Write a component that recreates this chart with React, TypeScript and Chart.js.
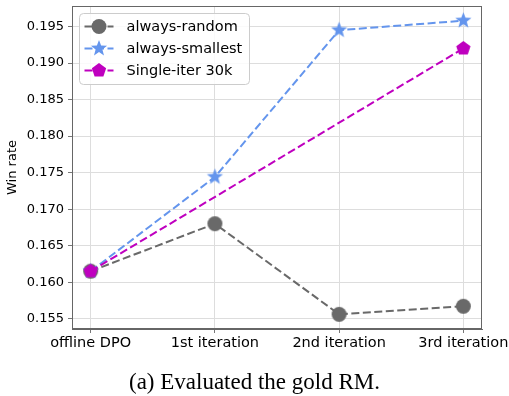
import React, { useEffect, useRef } from 'react';
import { Chart, registerables } from 'chart.js';
Chart.register(...registerables);

// ---- data ----
const categories = ['offline DPO', '1st iteration', '2nd iteration', '3rd iteration'];
const categoryX = [0, 1, 2, 3];
const randomValues = [0.1615, 0.168, 0.1556, 0.1567];
const smallestValues = [0.1615, 0.1744, 0.1945, 0.1958];
const singleIterX = [0, 3];
const singleIterValues = [0.1615, 0.192];
const yTickValues = [0.155, 0.16, 0.165, 0.17, 0.175, 0.18, 0.185, 0.19, 0.195];
const seriesNames = ['always-random', 'always-smallest', 'Single-iter 30k'];
const caption = '(a) Evaluated the gold RM.';

const GRAY = '#696969';
const BLUE = '#6495ED';
const MAGENTA = '#BF00BF';
const FONT = 'DejaVu Sans';
const DASH = [8, 3.5];

type Shape = 'circle' | 'star' | 'pentagon';

function drawMarker(ctx: CanvasRenderingContext2D, shape: Shape, x: number, y: number, r: number, color: string) {
  ctx.save();
  ctx.fillStyle = color;
  ctx.beginPath();
  if (shape === 'circle') {
    ctx.arc(x, y, r, 0, Math.PI * 2);
  } else if (shape === 'pentagon') {
    for (let i = 0; i < 5; i++) {
      const a = -Math.PI / 2 + (i * 2 * Math.PI) / 5;
      const px = x + r * Math.cos(a);
      const py = y + r * Math.sin(a);
      if (i === 0) ctx.moveTo(px, py);
      else ctx.lineTo(px, py);
    }
    ctx.closePath();
  } else {
    const inner = r * 0.42;
    for (let i = 0; i < 10; i++) {
      const a = -Math.PI / 2 + (i * Math.PI) / 5;
      const rr = i % 2 === 0 ? r : inner;
      const px = x + rr * Math.cos(a);
      const py = y + rr * Math.sin(a);
      if (i === 0) ctx.moveTo(px, py);
      else ctx.lineTo(px, py);
    }
    ctx.closePath();
  }
  ctx.fill();
  ctx.restore();
}

function markerCanvas(shape: Shape, r: number, color: string): HTMLCanvasElement {
  const c = document.createElement('canvas');
  const s = Math.ceil(r * 2 + 2);
  c.width = s;
  c.height = s;
  const ctx = c.getContext('2d')!;
  drawMarker(ctx, shape, s / 2, s / 2, r, color);
  return c;
}

const seriesColors = [GRAY, BLUE, MAGENTA];
const seriesShapes: Shape[] = ['circle', 'star', 'pentagon'];
const seriesRadius = [7.5, 8.5, 7.5];

const frameLegendPlugin = {
  id: 'frameLegend',
  beforeDatasetsDraw(chart: any) {
    const { ctx, chartArea } = chart;
    ctx.save();
    ctx.strokeStyle = '#666';
    ctx.lineWidth = 1;
    const l = Math.round(chartArea.left) + 0.5;
    const t = Math.round(chartArea.top) + 0.5;
    const r = Math.round(chartArea.right) - 0.5;
    const b = Math.round(chartArea.bottom) - 0.5;
    ctx.strokeRect(l, t, r - l, b - t);
    ctx.restore();
  },
  afterDatasetsDraw(chart: any) {
    const { ctx, chartArea } = chart;
    const bx = chartArea.left + 7.5;
    const by = chartArea.top + 7.5;
    const bw = 170;
    const bh = 71;
    ctx.save();
    ctx.fillStyle = 'rgba(255,255,255,0.85)';
    ctx.strokeStyle = '#cccccc';
    ctx.lineWidth = 1;
    ctx.beginPath();
    (ctx as any).roundRect(bx, by, bw, bh, 4);
    ctx.fill();
    ctx.stroke();
    seriesNames.forEach((name, i) => {
      const y = by + 13 + i * 22;
      ctx.strokeStyle = seriesColors[i];
      ctx.lineWidth = 2;
      ctx.setLineDash(DASH);
      ctx.beginPath();
      ctx.moveTo(bx + 5, y);
      ctx.lineTo(bx + 34, y);
      ctx.stroke();
      ctx.setLineDash([]);
      drawMarker(ctx, seriesShapes[i], bx + 19.5, y, seriesRadius[i], seriesColors[i]);
      ctx.fillStyle = '#000';
      ctx.font = `14.5px "${FONT}"`;
      ctx.textBaseline = 'middle';
      ctx.textAlign = 'left';
      ctx.fillText(name, bx + 47, y + 0.5);
    });
    ctx.restore();
  },
};

export default function App() {
  const ref = useRef<HTMLCanvasElement>(null);
  useEffect(() => {
    const canvas = ref.current!;
    const toPts = (xs: number[], ys: number[]) => xs.map((x, i) => ({ x, y: ys[i] }));
    const chart = new Chart(canvas, {
      type: 'line',
      data: {
        datasets: [
          {
            label: seriesNames[0],
            data: toPts(categoryX, randomValues),
            borderColor: GRAY,
            backgroundColor: GRAY,
            borderWidth: 2,
            borderDash: DASH,
            pointStyle: markerCanvas('circle', seriesRadius[0], GRAY),
            order: 3,
          },
          {
            label: seriesNames[1],
            data: toPts(categoryX, smallestValues),
            borderColor: BLUE,
            backgroundColor: BLUE,
            borderWidth: 2,
            borderDash: DASH,
            pointStyle: markerCanvas('star', seriesRadius[1], BLUE),
            order: 2,
          },
          {
            label: seriesNames[2],
            data: toPts(singleIterX, singleIterValues),
            borderColor: MAGENTA,
            backgroundColor: MAGENTA,
            borderWidth: 2,
            borderDash: DASH,
            pointStyle: markerCanvas('pentagon', seriesRadius[2], MAGENTA),
            order: 1,
          },
        ],
      },
      options: {
        responsive: false,
        animation: false,
        devicePixelRatio: 1,
        layout: { padding: { top: 4, right: 27, left: 0, bottom: 0 } },
        plugins: { legend: { display: false }, tooltip: { enabled: false } },
        scales: {
          x: {
            type: 'linear',
            min: -0.15,
            max: 3.15,
            afterBuildTicks: (s: any) => {
              s.ticks = categoryX.map((v) => ({ value: v }));
            },
            afterFit: (s: any) => {
              s.height = 67;
              s.paddingLeft = 0;
              s.paddingRight = 0;
            },
            ticks: {
              callback: (v: any) => categories[Math.round(Number(v))] ?? '',
              color: '#000',
              font: { family: FONT, size: 14.5 },
              padding: 2,
              maxRotation: 0,
              autoSkip: false,
            },
            grid: { color: '#dddddd', lineWidth: 1, tickLength: 4, tickColor: '#777' },
            border: { color: '#666', width: 1 },
          },
          y: {
            min: 0.15359,
            max: 0.19781,
            afterBuildTicks: (s: any) => {
              s.ticks = yTickValues.map((v) => ({ value: v }));
            },
            afterFit: (s: any) => {
              s.width = 72;
              s.paddingTop = 0;
              s.paddingBottom = 0;
            },
            ticks: {
              callback: (v: any) => Number(v).toFixed(3),
              color: '#000',
              font: { family: FONT, size: 13 },
              padding: 4,
            },
            grid: { color: '#dddddd', lineWidth: 1, tickLength: 4, tickColor: '#777' },
            border: { color: '#666', width: 1 },
            title: {
              display: true,
              text: 'Win rate',
              color: '#000',
              font: { family: FONT, size: 13 },
              padding: { top: 5, bottom: 0 },
            },
          },
        },
      },
      plugins: [frameLegendPlugin],
    } as any);
    return () => chart.destroy();
  }, []);

  return (
    <div style={{ position: 'fixed', left: 0, top: 0, width: 509, height: 396, background: '#fff' }}>
      <canvas ref={ref} width={509} height={396} style={{ width: 509, height: 396, display: 'block' }} />
      <div
        style={{
          position: 'absolute',
          left: 0,
          top: 370,
          width: 509,
          textAlign: 'center',
          fontFamily: '"Liberation Serif", serif',
          fontSize: 23,
          lineHeight: 1,
          color: '#000',
        }}
      >
        {caption}
      </div>
    </div>
  );
}
